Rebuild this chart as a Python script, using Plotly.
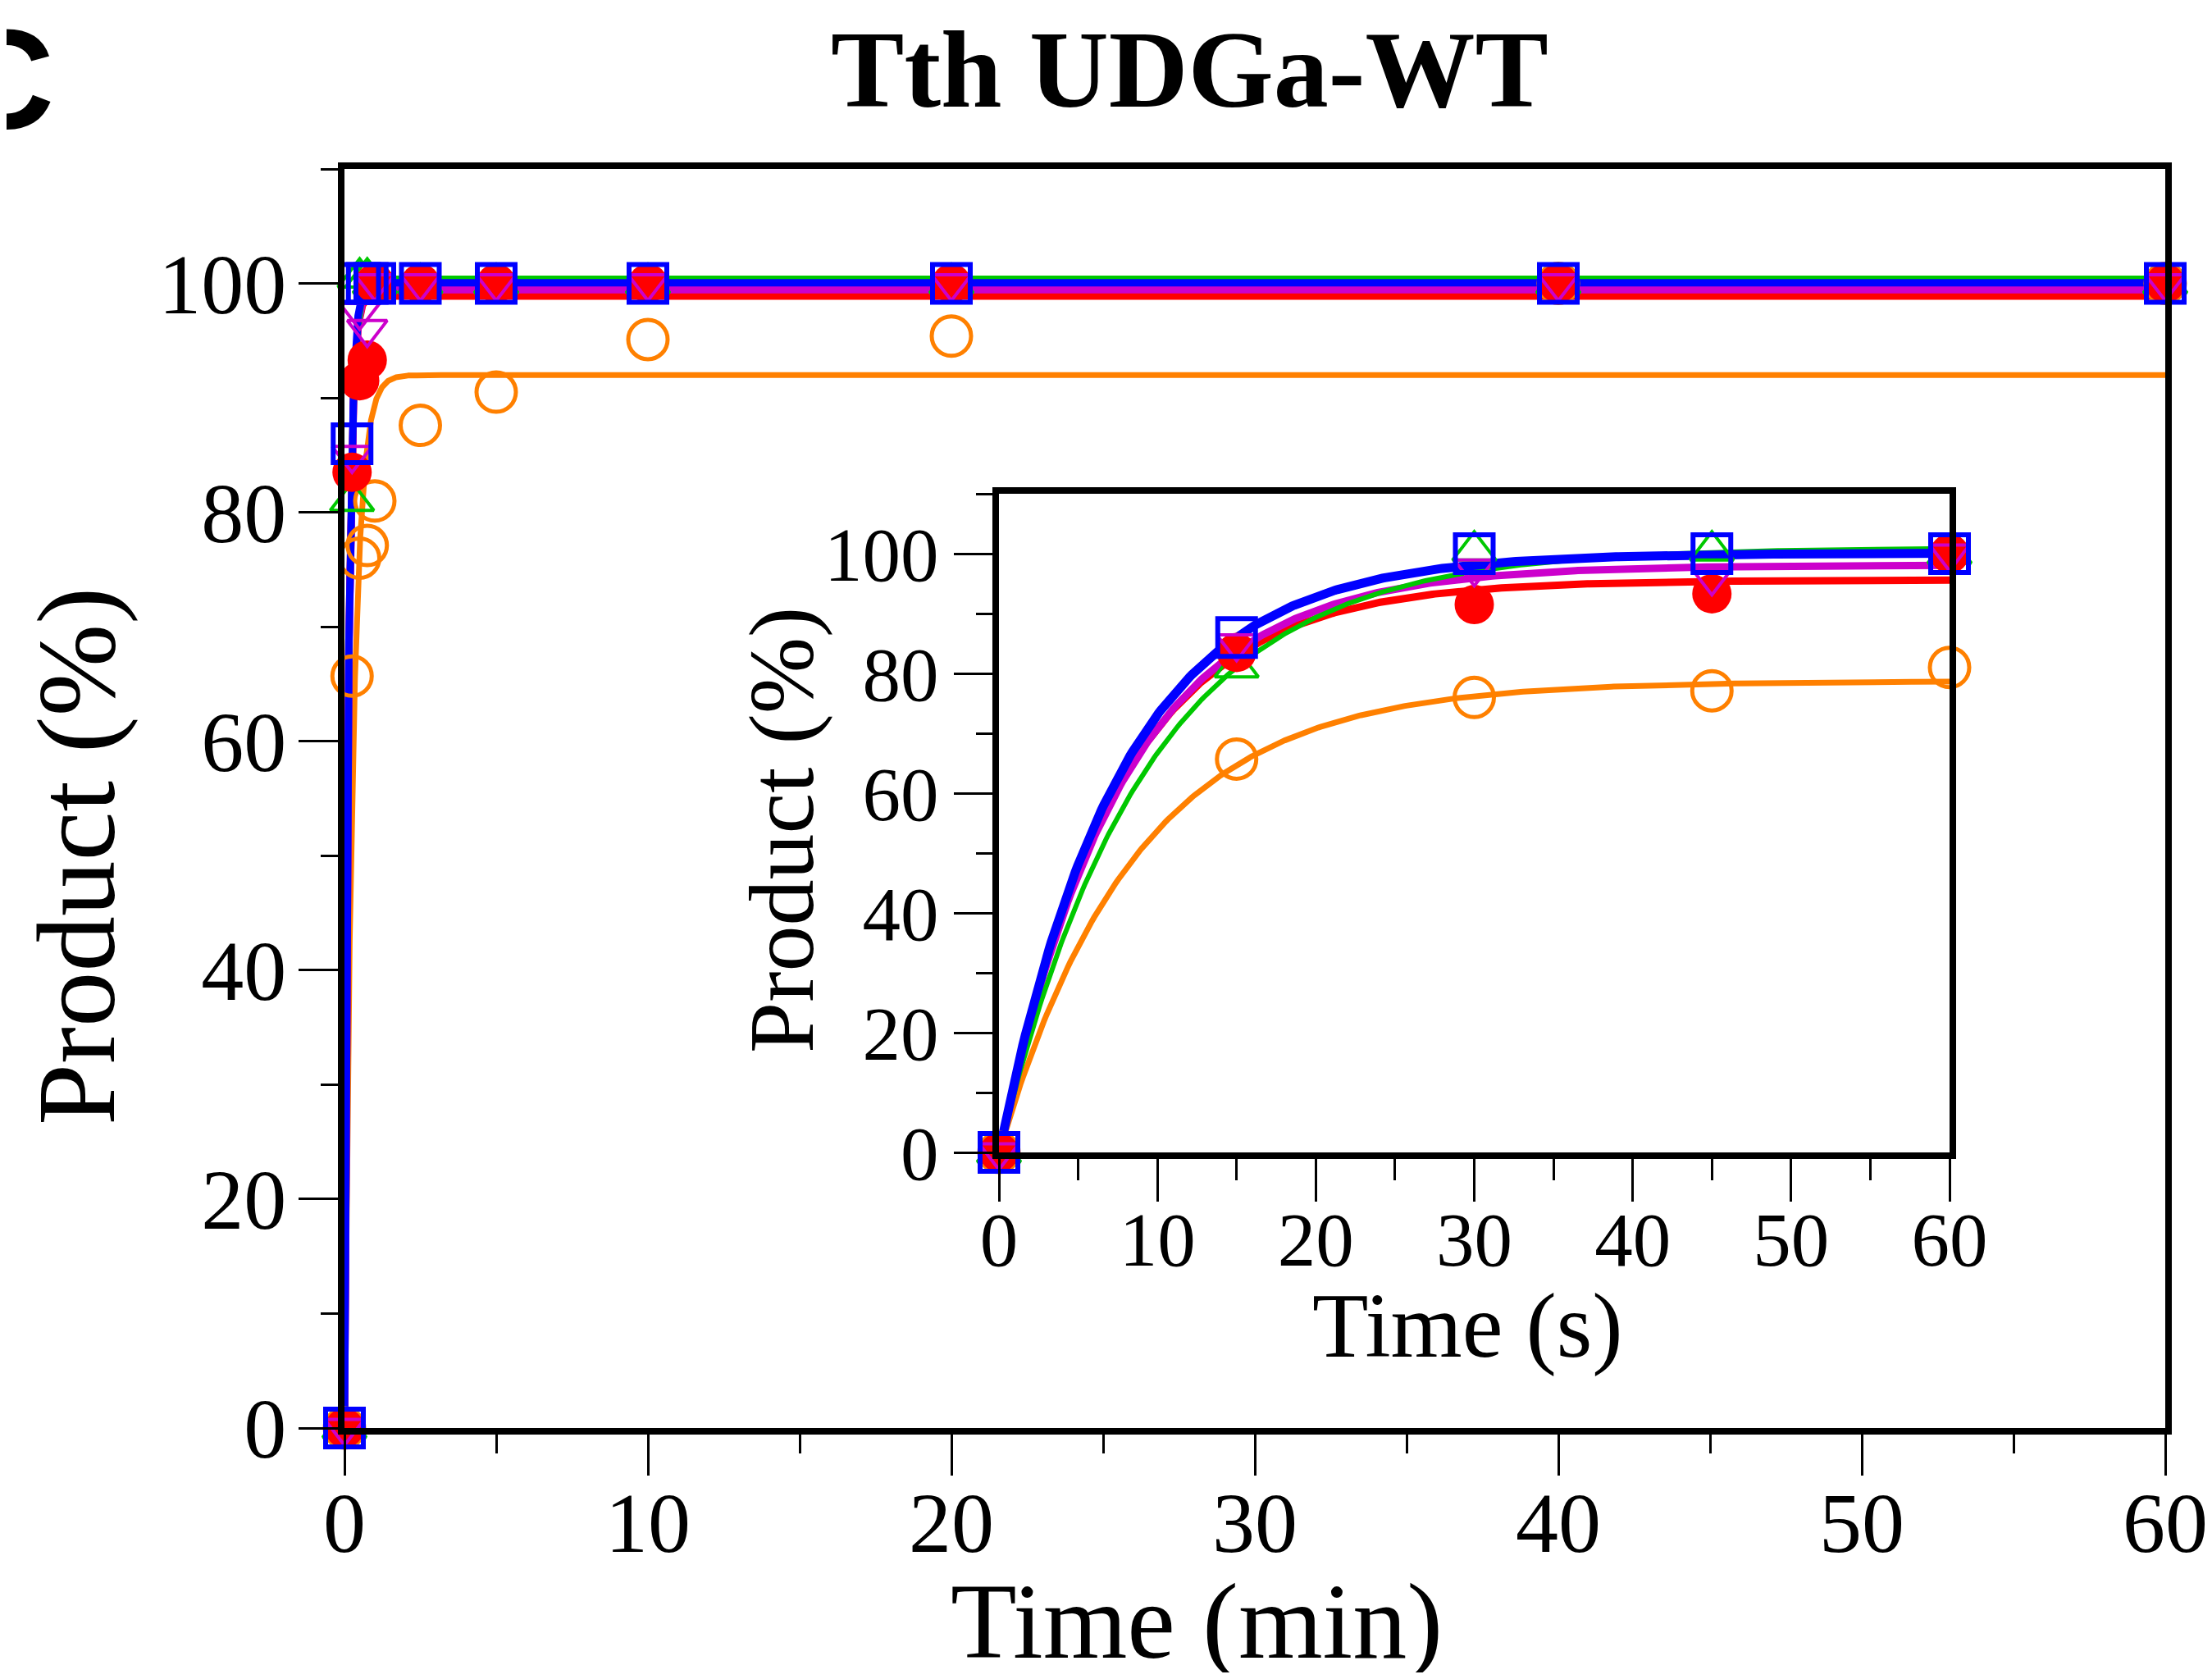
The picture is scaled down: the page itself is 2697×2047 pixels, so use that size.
import numpy as np
import plotly.graph_objects as go

# ---------------- data ----------------
series_names = ["orange", "green", "red", "magenta", "blue"]
colors = {"orange": "#FF8000", "green": "#00C800", "red": "#FF0000",
          "magenta": "#CC00CC", "blue": "#0000FF"}

# inset: time in seconds
time_s = [0, 15, 30, 45, 60]
inset_orange = [0, 65.7, 76.0, 77.1, 81.0]
inset_green = [0, 81.0, 100.5, 100.5, 100.0]
inset_red = [0, 83.5, 91.5, 93.3, 100.0]
inset_magenta = [0, 85.0, 97.5, 96.0, 100.0]
inset_blue = [0, 86.0, 100.0, 100.0, 100.0]

# main: time in minutes
time_min = [0, 0.25, 0.5, 0.75, 1, 2.5, 5, 10, 20, 40, 60]
main_orange = [0, 65.7, 76.0, 77.1, 81.0, 87.6, 90.5, 95.1, 95.4, 100, 100]
main_green = [0, 81.0, 100.5, 100.5, 100, 100, 100, 100, 100, 100, 100]
main_red = [0, 83.5, 91.5, 93.3, 100, 100, 100, 100, 100, 100, 100]
main_magenta = [0, 85.0, 97.5, 96.0, 100, 100, 100, 100, 100, 100, 100]
main_blue = [0, 86.0, 100, 100, 100, 100, 100, 100, 100, 100, 100]

# single-exponential fit parameters: (plateau, rate)
fit_inset = {"orange": (78.7, 0.115), "green": (101.0, 0.108), "red": (95.6, 0.135),
             "magenta": (98.1, 0.128), "blue": (100.1, 0.131)}       # rate per s
fit_main = {"orange": (92.0, 3.6), "green": (100.5, 6.5), "red": (98.9, 8.1),
            "magenta": (99.45, 7.7), "blue": (100.05, 7.9)}         # rate per min

inset_data = {"orange": inset_orange, "green": inset_green, "red": inset_red,
              "magenta": inset_magenta, "blue": inset_blue}
main_data = {"orange": main_orange, "green": main_green, "red": main_red,
             "magenta": main_magenta, "blue": main_blue}

# ---------------- styles ----------------
PAGE_MARGIN = 8                     # default <body> margin of the written page
W, H = 2697 - 2 * PAGE_MARGIN, 2047 - 2 * PAGE_MARGIN
SERIF = "Liberation Serif, Times New Roman, serif"
symbols = {"orange": "circle-open", "green": "triangle-up-open", "red": "circle",
           "magenta": "triangle-down-open", "blue": "square-open"}
msize = {"orange": 48, "green": 46, "red": 48, "magenta": 42, "blue": 46}
mline = {"orange": 5, "green": 4, "red": 0, "magenta": 4, "blue": 6}
lw_main = {"orange": 7, "green": 5, "red": 9, "magenta": 9, "blue": 9}
lw_inset = {"orange": 7, "green": 6, "red": 9, "magenta": 9, "blue": 11}
line_order = ["orange", "red", "magenta", "green", "blue"]

def px_x(p):  # screen pixel -> paper fraction
    return (p - PAGE_MARGIN) / W

def px_y(p):
    return (H - (p - PAGE_MARGIN)) / H

fig = go.Figure()

t_main = np.concatenate([np.linspace(0, 3, 900), np.linspace(3, 60, 300)[1:]])
t_inset = np.linspace(0, 60, 400)

for name in line_order:
    A, k = fit_main[name]
    fig.add_trace(go.Scatter(x=t_main, y=A * (1 - np.exp(-k * t_main)), mode="lines",
                             line=dict(color=colors[name], width=lw_main[name]),
                             xaxis="x", yaxis="y", showlegend=False, hoverinfo="skip"))
for name in series_names:
    fig.add_trace(go.Scatter(x=time_min, y=main_data[name], mode="markers",
                             marker=dict(symbol=symbols[name], size=msize[name], color=colors[name],
                                         line=dict(color=colors[name], width=mline[name])),
                             cliponaxis=False, xaxis="x", yaxis="y", showlegend=False))

for name in line_order:
    A, k = fit_inset[name]
    fig.add_trace(go.Scatter(x=t_inset, y=A * (1 - np.exp(-k * t_inset)), mode="lines",
                             line=dict(color=colors[name], width=lw_inset[name]),
                             xaxis="x2", yaxis="y2", showlegend=False, hoverinfo="skip"))
for name in series_names:
    fig.add_trace(go.Scatter(x=time_s, y=inset_data[name], mode="markers",
                             marker=dict(symbol=symbols[name], size=msize[name], color=colors[name],
                                         line=dict(color=colors[name], width=mline[name])),
                             cliponaxis=False, xaxis="x2", yaxis="y2", showlegend=False))

x_ticks = [0, 10, 20, 30, 40, 50, 60]
y_ticks = [0, 20, 40, 60, 80, 100]

def axis(domain, anchor, rng, ticks, dminor, tlen, mlen, fsize, standoff):
    return dict(domain=domain, anchor=anchor, range=rng, tickvals=ticks,
                ticktext=[str(v) for v in ticks], ticks="outside", ticklen=tlen,
                tickwidth=3, tickcolor="black", automargin=False,
                ticklabelstandoff=standoff, ticklabeloverflow="allow",
                minor=dict(dtick=dminor, tick0=0, ticks="outside", ticklen=mlen,
                           tickwidth=3, tickcolor="black", showgrid=False),
                showline=True, linewidth=8, linecolor="black", mirror=True,
                showgrid=False, zeroline=False,
                tickfont=dict(family=SERIF, size=fsize, color="black"))

fig.update_layout(
    width=W, height=H, autosize=False,
    margin=dict(l=0, r=0, t=0, b=0),
    paper_bgcolor="white", plot_bgcolor="white",
    xaxis=axis([px_x(420), px_x(2640)], "y", [0, 60], x_ticks, 5, 50, 23, 104, -32),
    yaxis=axis([px_y(1741), px_y(206)], "x", [0, 110], y_ticks, 10, 48, 21, 104, -6),
    xaxis2=axis([px_x(1218), px_x(2377)], "y2", [0, 60], x_ticks, 5, 52, 26, 93, -34),
    yaxis2=axis([px_y(1405), px_y(602)], "x2", [0, 110], y_ticks, 10, 47, 20, 93, 0),
)

annotations = [
    dict(text="<b>Tth UDGa-WT</b>", x=px_x(1450), y=px_y(85), xanchor="center", yanchor="middle",
         font=dict(family=SERIF, size=134, color="black")),
    dict(text="<b>C</b>", x=px_x(-60), y=px_y(96), xanchor="left", yanchor="middle",
         font=dict(family="Liberation Sans, Arial, sans-serif", size=172, color="black")),
    dict(text="Time (min)", x=px_x(1459), y=px_y(1976), xanchor="center", yanchor="middle",
         font=dict(family=SERIF, size=132, color="black")),
    dict(text="Product (%)", x=px_x(93), y=px_y(1044), xanchor="center", yanchor="middle",
         textangle=-90, font=dict(family=SERIF, size=135, color="black")),
    dict(text="Time (s)", x=px_x(1789), y=px_y(1616), xanchor="center", yanchor="middle",
         font=dict(family=SERIF, size=112, color="black")),
    dict(text="Product (%)", x=px_x(953), y=px_y(1012), xanchor="center", yanchor="middle",
         textangle=-90, font=dict(family=SERIF, size=112, color="black")),
]
for a in annotations:
    a.update(xref="paper", yref="paper", showarrow=False)
fig.update_layout(annotations=annotations)

fig.write_html("out.html")
